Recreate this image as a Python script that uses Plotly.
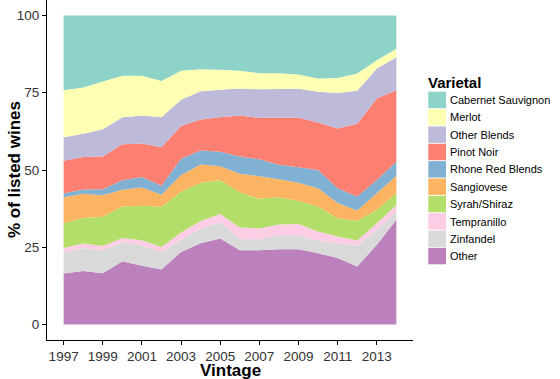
import plotly.graph_objects as go

years = list(range(1997, 2015))

other = [16.5, 17.3, 16.6, 20.5, 19.0, 17.8, 23.5, 26.3, 27.8, 24.0, 24.0, 24.4, 24.4, 23.1, 21.5, 18.8, 25.8, 33.9]
zinfandel = [6.8, 7.5, 7.4, 6.2, 6.6, 5.6, 3.9, 4.8, 5.3, 3.7, 3.5, 4.6, 4.5, 4.0, 4.8, 6.8, 4.9, 2.7]
tempranillo = [1.5, 1.4, 1.4, 1.3, 1.7, 1.7, 2.4, 2.4, 2.7, 3.7, 3.6, 3.4, 3.6, 3.0, 2.2, 1.6, 2.1, 2.1]
syrah = [8.0, 8.3, 9.5, 10.2, 11.1, 13.0, 13.2, 12.4, 10.9, 11.3, 9.6, 8.8, 7.5, 8.1, 5.9, 6.4, 4.3, 3.8]
sangiovese = [8.4, 7.8, 6.9, 5.4, 5.9, 3.9, 5.4, 5.9, 4.5, 6.1, 7.3, 5.8, 5.9, 5.9, 4.9, 3.3, 5.4, 5.6]
rhone = [1.2, 1.4, 2.0, 3.1, 3.4, 2.9, 5.2, 4.5, 4.7, 5.6, 5.5, 4.7, 5.0, 5.9, 4.8, 4.5, 4.3, 4.6]
pinot = [10.6, 10.5, 10.6, 11.6, 10.9, 12.5, 10.6, 10.0, 11.2, 13.2, 13.4, 15.2, 16.0, 15.4, 19.3, 23.6, 26.3, 23.1]
other_blends = [7.6, 7.5, 8.8, 8.8, 9.0, 9.7, 8.5, 9.2, 8.9, 8.8, 9.2, 9.3, 9.4, 9.9, 11.5, 10.6, 9.7, 10.7]
merlot = [15.2, 15.0, 15.4, 13.4, 12.9, 11.7, 9.4, 7.1, 6.4, 5.7, 5.2, 5.1, 4.6, 4.3, 4.9, 5.6, 2.7, 2.7]
cabernet = [24.2, 23.3, 21.4, 19.5, 19.5, 21.2, 17.9, 17.4, 17.6, 17.9, 18.7, 18.7, 19.1, 20.4, 20.2, 18.8, 14.5, 10.8]

# bottom -> top stacking order
series_names = ["Other", "Zinfandel", "Tempranillo", "Syrah/Shiraz", "Sangiovese",
                "Rhone Red Blends", "Pinot Noir", "Other Blends", "Merlot", "Cabernet Sauvignon"]
series_values = [other, zinfandel, tempranillo, syrah, sangiovese,
                 rhone, pinot, other_blends, merlot, cabernet]
series_colors = ["#BC80BD", "#D9D9D9", "#FCCDE5", "#B3DE69", "#FDB462",
                 "#80B1D3", "#FB8072", "#BEBADA", "#FFFFB3", "#8DD3C7"]

W, H = 560, 379
ML, MR, MT, MB = 47, 147, 0, 39
PW, PH = W - ML - MR, H - MT - MB

def px_x(x):
    return (x - ML) / PW

def px_y(y):
    return (H - MB - y) / PH

fig = go.Figure()
for name, vals, col in zip(series_names, series_values, series_colors):
    fig.add_trace(go.Scatter(
        x=years, y=vals, name=name, mode="none", stackgroup="one",
        fillcolor=col, line=dict(width=0), showlegend=False,
    ))

FONT = "Liberation Sans, Arial, sans-serif"

annotations = []
shapes = []
# legend (top -> bottom)
leg_names = series_names[::-1]
leg_cols = series_colors[::-1]
y0 = 91.7
step = 17.35
for i, (n, c) in enumerate(zip(leg_names, leg_cols)):
    top = y0 + i * step
    shapes.append(dict(type="rect", xref="paper", yref="paper",
                       x0=px_x(428.3), x1=px_x(446), y0=px_y(top + step - 0.9), y1=px_y(top),
                       fillcolor=c, line=dict(width=0)))
    annotations.append(dict(xref="paper", yref="paper", x=px_x(448), y=px_y(top + step / 2 - 0.3),
                            text=n, showarrow=False, xanchor="left", yanchor="middle",
                            font=dict(family=FONT, size=11, color="#000000")))
annotations.append(dict(xref="paper", yref="paper", x=px_x(426), y=px_y(82),
                        text="<b>Varietal</b>", showarrow=False, xanchor="left", yanchor="middle",
                        font=dict(family=FONT, size=15, color="#000000")))
# axis titles
annotations.append(dict(xref="paper", yref="paper", x=px_x(230), y=px_y(370.5),
                        text="<b>Vintage</b>", showarrow=False, xanchor="center", yanchor="middle",
                        font=dict(family=FONT, size=17, color="#000000")))
annotations.append(dict(xref="paper", yref="paper", x=px_x(14), y=px_y(170),
                        text="<b>% of listed wines</b>", showarrow=False, textangle=-90,
                        xanchor="center", yanchor="middle",
                        font=dict(family=FONT, size=17, color="#000000")))

fig.update_layout(
    width=W, height=H,
    margin=dict(l=ML, r=MR, t=MT, b=MB, pad=0),
    paper_bgcolor="white", plot_bgcolor="white",
    showlegend=False,
    annotations=annotations, shapes=shapes,
    font=dict(family=FONT, size=12, color="#333333"),
    xaxis=dict(range=[1997 - 0.85, 2014 + 0.85], tickmode="array",
               tickvals=list(range(1997, 2015, 2)), ticktext=[str(v) for v in range(1997, 2015, 2)],
               showgrid=False, zeroline=False, showline=True, linecolor="black", linewidth=1,
               ticks="outside", ticklen=4, tickcolor="black",
               tickfont=dict(family=FONT, size=13.5, color="#333333")),
    yaxis=dict(range=[-5, 105], tickmode="array", tickvals=[0, 25, 50, 75, 100],
               showgrid=False, zeroline=False, showline=True, linecolor="black", linewidth=1,
               ticks="outside", ticklen=4, tickcolor="black",
               tickfont=dict(family=FONT, size=13.5, color="#333333")),
)

fig.write_html("out.html", config={"displayModeBar": False},
               post_script="document.body.style.margin='0';document.body.style.padding='0';")
